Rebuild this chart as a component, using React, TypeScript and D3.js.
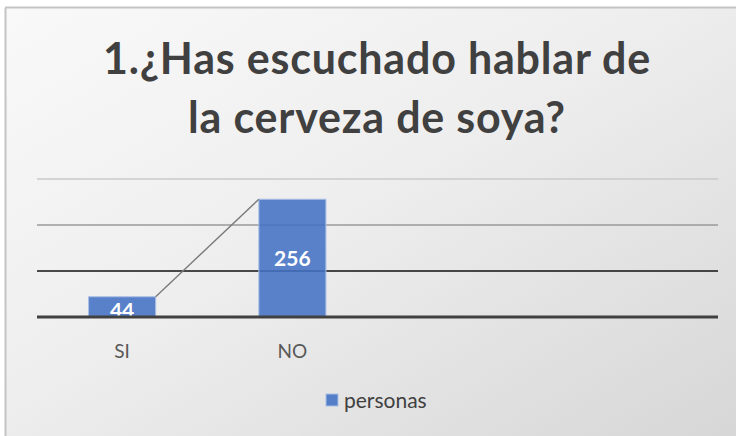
import React from "react";
import * as d3 from "d3";

const categories = ["SI", "NO"];
const values = [44, 256];
const seriesName = "personas";
const gridValues = [100, 200, 300];
const titleLines = ["1.¿Has escuchado hablar de", "la cerveza de soya?"];

const W = 736;
const H = 436;
const FONT = "Lato, 'Open Sans', sans-serif";

export default function App() {
  const slots = d3.range(4);
  const x = d3
    .scaleBand<number>()
    .domain(slots)
    .range([37, 718])
    .paddingInner(0.606)
    .paddingOuter(0.303);
  const y = d3.scaleLinear().domain([0, 300]).range([317, 179]);
  const bw = x.bandwidth();

  const gridStyle: Record<number, { stroke: string; w: number }> = {
    100: { stroke: "#111", w: 1.6 },
    200: { stroke: "#9a9a9a", w: 1.6 },
    300: { stroke: "#cacaca", w: 1.6 },
  };

  return (
    <svg
      width={W}
      height={H}
      style={{ position: "absolute", left: 0, top: 0 }}
      fontFamily={FONT}
    >
      <defs>
        <linearGradient id="bg" x1="0" y1="0" x2="1" y2="1">
          <stop offset="0" stopColor="#f9f9f9" />
          <stop offset="0.45" stopColor="#eeeeee" />
          <stop offset="1" stopColor="#d6d6d6" />
        </linearGradient>
        <clipPath id="plot">
          <rect x={0} y={0} width={W} height={y(0)} />
        </clipPath>
      </defs>
      <rect x={0} y={0} width={W} height={H} fill="#fff" />
      <rect x={6} y={8} width={W} height={H} fill="url(#bg)" />
      <line x1={5.5} y1={8} x2={5.5} y2={H} stroke="#c4c4c4" strokeWidth={2} />
      <line x1={5} y1={7.5} x2={W} y2={7.5} stroke="#c4c4c4" strokeWidth={2} />

      {titleLines.map((t, i) => (
        <text
          key={i}
          x={377}
          y={74 + i * 59}
          textAnchor="middle"
          fontSize={43}
          letterSpacing={0.8}
          fontWeight="bold"
          fill="#404040"
        >
          {t}
        </text>
      ))}

      {gridValues.map((g) => (
        <line
          key={g}
          x1={37}
          x2={718}
          y1={y(g)}
          y2={y(g)}
          stroke={gridStyle[g].stroke}
          strokeWidth={gridStyle[g].w}
        />
      ))}

      <g clipPath="url(#plot)">
        {categories.map((c, i) => (
          <rect
            key={c}
            x={x(i)!}
            y={y(values[i])}
            width={bw}
            height={y(0) - y(values[i])}
            fill="#4472c4"
            fillOpacity={0.88}
            stroke="#a9bfe6"
            strokeWidth={1}
          />
        ))}
        {categories.map((c, i) => {
          const h = y(0) - y(values[i]);
          const cy = h < 40 ? y(values[i]) + 21 : (y(values[i]) + y(0)) / 2 + 8;
          return (
            <text
              key={c}
              x={x(i)! + bw / 2}
              y={cy}
              textAnchor="middle"
              fontSize={21}
              fontWeight="bold"
              fill="#fff"
            >
              {values[i]}
            </text>
          );
        })}
      </g>

      {categories.slice(0, -1).map((c, i) => (
        <line
          key={c}
          x1={x(i)! + bw}
          y1={y(values[i])}
          x2={x(i + 1)!}
          y2={y(values[i + 1])}
          stroke="#7a7a7a"
          strokeWidth={1.4}
        />
      ))}

      <line x1={37} x2={718} y1={y(0)} y2={y(0)} stroke="#404040" strokeWidth={3} />

      {categories.map((c, i) => (
        <text
          key={c}
          x={x(i)! + bw / 2}
          y={358}
          textAnchor="middle"
          fontSize={19}
          fill="#595959"
        >
          {c}
        </text>
      ))}

      <rect x={326} y={394} width={12} height={12} fill="#4472c4" fillOpacity={0.9} stroke="#a9bfe6" />
      <text x={344} y={408} fontSize={21} fill="#404040">
        {seriesName}
      </text>
    </svg>
  );
}
